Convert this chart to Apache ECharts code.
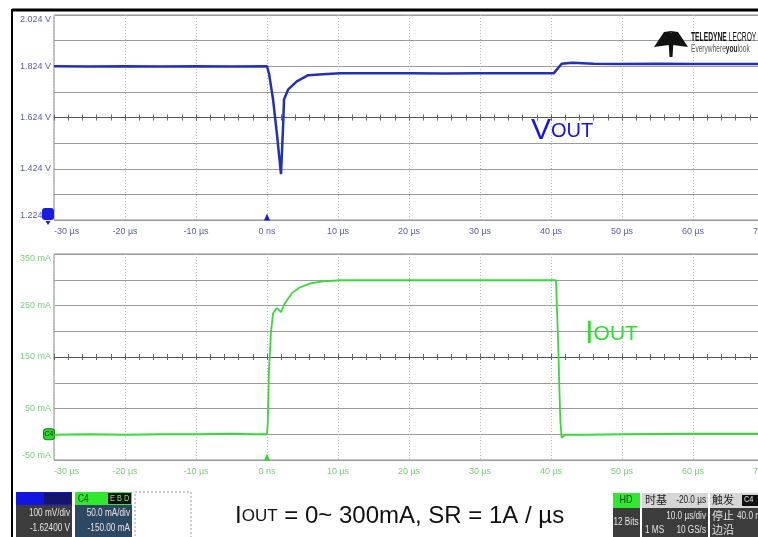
<!DOCTYPE html>
<html>
<head>
<meta charset="utf-8">
<script src="https://cdn.jsdelivr.net/npm/echarts@6/dist/echarts.min.js"></script>
<style>
  html, body { margin: 0; padding: 0; background: #fff; }
  #chart { width: 758px; height: 537px; }
</style>
</head>
<body>
<div id="chart"></div>
<script>
// VOUT trace (time in µs, volts)
const voutTime = [-30, -25, -20, -15, -10, -5, 0, 0.3, 0.85, 1.4, 1.97, 2.25, 2.4, 3.0, 4.2, 5.8, 7.9, 10.3, 15, 20, 25, 30, 35, 40.4, 41.5, 43, 46, 50, 55, 60, 65, 70];
const voutVolts = [1.824, 1.823, 1.824, 1.823, 1.824, 1.823, 1.824, 1.793, 1.695, 1.559, 1.403, 1.578, 1.695, 1.734, 1.765, 1.789, 1.793, 1.797, 1.797, 1.797, 1.796, 1.797, 1.797, 1.797, 1.834, 1.838, 1.834, 1.833, 1.834, 1.833, 1.833, 1.833];

// IOUT trace (time in µs, mA)
const ioutTime = [-30, -25, -20, -15, -10, -5, -2, 0, 0.1, 0.28, 0.56, 0.85, 1.4, 1.97, 2.5, 3.5, 4.6, 6.1, 7.9, 10.3, 20, 30, 40.7, 41.0, 41.3, 41.5, 42, 45, 50, 60, 70];
const ioutMilliamps = [-1, 0, -1, 0, 0, 1, 0, 0, 20, 124, 198, 235, 245, 237, 254, 274, 285, 293, 297, 299, 299, 299, 299, 180, 30, -7, -1, -1, 0, 1, 1];

// tick labels
const voltLabelTicks = [1.224, 1.424, 1.624, 1.824, 2.024];
const currentLabelTicks = [-50, 50, 150, 250, 350];

const narrow = "'Liberation Sans Narrow', 'Arial Narrow', 'Liberation Sans', sans-serif";
const sans = "'Liberation Sans', Arial, sans-serif";
const cjk = "'Noto Sans CJK SC', sans-serif";

const chart = echarts.init(document.getElementById("chart"));

const timeLabel = (v) => (v === 0 ? "0 ns" : v + " µs");

function mainX(gridIndex, color) {
  return {
    type: "value", gridIndex, min: -30, max: 70, interval: 10,
    axisLine: { show: false }, axisTick: { show: false },
    axisLabel: { color, fontSize: 9, fontFamily: narrow, margin: 7, formatter: timeLabel, alignMinLabel: "left" },
    splitLine: { show: true, lineStyle: { color: "#b8b8b8", type: [1, 2], width: 1 } },
  };
}
function centerX(gridIndex, offset, inside, showLine) {
  return {
    type: "value", gridIndex, min: -30, max: 70, interval: 2, position: "bottom", offset,
    axisLine: { show: showLine, lineStyle: { color: "#555", width: 1 } },
    axisTick: { show: true, inside, length: 3, lineStyle: { color: "#666" } },
    axisLabel: { show: false }, splitLine: { show: false },
  };
}

// small narrow text helper for the scope readout boxes
function readout(x, y, text, fill, align, size, family) {
  return {
    type: "text", x, y, z: 27, scaleX: family === cjk ? 1 : 0.82,
    style: { text, fill, font: (size || 10) + "px " + (family || sans), align: align || "left", verticalAlign: "middle" },
  };
}

const option = {
  animation: false,
  backgroundColor: "#fff",
  grid: [
    { left: 54, top: 15, width: 710, height: 205, show: true, borderColor: "#8c8c8c", borderWidth: 1, outerBoundsMode: "none", containLabel: false },
    { left: 54, top: 254, width: 710, height: 206, show: true, borderColor: "#8c8c8c", borderWidth: 1, outerBoundsMode: "none", containLabel: false },
  ],
  xAxis: [
    mainX(0, "#5a5ea6"),
    centerX(0, -102.5, false, true),
    centerX(0, -102.5, true, false),
    mainX(1, "#79cf79"),
    centerX(1, -103, false, true),
    centerX(1, -103, true, false),
  ],
  yAxis: [
    {
      type: "value", gridIndex: 0, min: 1.224, max: 2.024, interval: 0.1,
      axisLine: { show: false }, axisTick: { show: false },
      axisLabel: {
        color: "#5a5ea6", fontSize: 9, fontFamily: narrow, margin: 3,
        verticalAlignMinLabel: "bottom", verticalAlignMaxLabel: "top",
        formatter: (v) => (voltLabelTicks.some((t) => Math.abs(t - v) < 1e-6) ? v.toFixed(3) + " V" : ""),
      },
      splitLine: { lineStyle: { color: "#9a9a9a", width: 1 } },
    },
    {
      type: "value", gridIndex: 1, min: -50, max: 350, interval: 50,
      axisLine: { show: false }, axisTick: { show: false },
      axisLabel: {
        color: "#79cf79", fontSize: 9, fontFamily: narrow, margin: 3,
        verticalAlignMinLabel: "bottom", verticalAlignMaxLabel: "top",
        formatter: (v) => (currentLabelTicks.includes(v) ? v + " mA" : ""),
      },
      splitLine: { lineStyle: { color: "#9a9a9a", width: 1 } },
    },
  ],
  series: [
    {
      name: "VOUT", type: "line", xAxisIndex: 0, yAxisIndex: 0, showSymbol: false, silent: true,
      data: voutTime.map((t, i) => [t, voutVolts[i]]),
      lineStyle: { color: "#2230b8", width: 2.5 }, z: 5,
      markPoint: {
        silent: true,
        data: [
          { coord: [-30, 1.224], symbol: "roundRect", symbolSize: [12, 12], symbolOffset: [-6, -6], itemStyle: { color: "#1a1ae0" } },
          { coord: [-30, 1.224], symbol: "triangle", symbolSize: [5, 4], symbolOffset: [-6, 3], symbolRotate: 180, itemStyle: { color: "#1a1ae0" } },
          { coord: [0, 1.224], symbol: "triangle", symbolSize: [6, 7], symbolOffset: [0, -3], itemStyle: { color: "#1a1ae0" } },
        ],
        label: { show: false },
      },
    },
    {
      name: "IOUT", type: "line", xAxisIndex: 3, yAxisIndex: 1, showSymbol: false, silent: true,
      data: ioutTime.map((t, i) => [t, ioutMilliamps[i]]),
      lineStyle: { color: "#3ad93a", width: 1.8 }, z: 5,
      markPoint: {
        silent: true,
        data: [
          { coord: [-30, 0], symbol: "roundRect", symbolSize: [11, 11], symbolOffset: [-5, 0], itemStyle: { color: "#2ad82a", borderColor: "#127012", borderWidth: 1 },
            label: { show: true, formatter: "C4", fontSize: 7, color: "#063006", fontFamily: narrow } },
          { coord: [0, -50], symbol: "triangle", symbolSize: [6, 7], symbolOffset: [0, -3], itemStyle: { color: "#2ad82a" }, label: { show: false } },
        ],
      },
    },
  ],
  graphic: [
    // scope frame
    { type: "rect", shape: { x: 12, y: 10, width: 800, height: 600 }, style: { fill: "none", stroke: "#000", lineWidth: 2 }, z: 20, silent: true },
    { type: "line", shape: { x1: 12, y1: 10, x2: 758, y2: 10 }, style: { stroke: "#000", lineWidth: 3 }, z: 20, silent: true },
    // trace labels
    { type: "text", x: 531, y: 146, z: 30, style: { text: "{v|V}{o|OUT}", verticalAlign: "bottom", rich: { v: { fontSize: 30, fontFamily: sans, fill: "#1414f0" }, o: { fontSize: 20, fontFamily: sans, fill: "#1414f0" } } } },
    { type: "text", x: 585, y: 350, z: 30, style: { text: "{v|I}{o|OUT}", verticalAlign: "bottom", rich: { v: { fontSize: 31, fontFamily: sans, fill: "#2ee02e" }, o: { fontSize: 21, fontFamily: sans, fill: "#2ee02e" } } } },
    { type: "text", x: 235, y: 528, z: 30, style: { text: "{v|I}{o|OUT}{v| = 0~ 300mA, SR = 1A / µs}", verticalAlign: "bottom", rich: { v: { fontSize: 24, fontFamily: sans, fill: "#111" }, o: { fontSize: 17, fontFamily: sans, fill: "#111" } } } },
    // logo
    { type: "polygon", shape: { points: [[654, 47], [664, 32], [671, 31], [669, 45]] }, style: { fill: "#111" }, z: 25 },
    { type: "polygon", shape: { points: [[688, 47], [678, 32], [671, 31], [673, 45]] }, style: { fill: "#111" }, z: 25 },
    { type: "polygon", shape: { points: [[668, 33], [674, 33], [672.5, 57], [669.5, 57]] }, style: { fill: "#111" }, z: 25 },
    { type: "text", x: 691, y: 38, z: 25, scaleX: 0.56, style: { text: "{b|TELEDYNE}{r| LECROY}", verticalAlign: "middle", rich: { b: { fontSize: 12, fontWeight: "bold", fontFamily: sans, fill: "#111" }, r: { fontSize: 12, fontFamily: sans, fill: "#111" } } } },
    { type: "text", x: 691, y: 49, z: 25, scaleX: 0.6, style: { text: "{r|Everywhere}{b|you}{r|look}", verticalAlign: "middle", rich: { b: { fontSize: 11, fontWeight: "bold", fontFamily: sans, fill: "#222" }, r: { fontSize: 11, fontFamily: sans, fill: "#555" } } } },
    // channel boxes (bottom left)
    { type: "rect", shape: { x: 16, y: 492, width: 56, height: 13 }, style: { fill: "#1414e0" }, z: 25 },
    { type: "rect", shape: { x: 44, y: 493, width: 27, height: 11 }, style: { fill: "#14146a" }, z: 26 },
    { type: "rect", shape: { x: 16, y: 505, width: 56, height: 32 }, style: { fill: "#3c3c3c" }, z: 25 },
    readout(70, 513, "100 mV/div", "#e4e4e4", "right"),
    readout(70, 528, "-1.62400 V", "#e4e4e4", "right"),
    { type: "rect", shape: { x: 75, y: 492, width: 57, height: 13 }, style: { fill: "#30e830" }, z: 25 },
    readout(78, 499, "C4", "#0c3a0c"),
    { type: "rect", shape: { x: 108, y: 493, width: 23, height: 11 }, style: { fill: "#101010" }, z: 26 },
    readout(110, 499, "E B D", "#7de87d", "left", 9),
    { type: "rect", shape: { x: 75, y: 505, width: 57, height: 32 }, style: { fill: "#2e4864" }, z: 25 },
    readout(130, 513, "50.0 mA/div", "#e4e4e4", "right"),
    readout(130, 528, "-150.00 mA", "#e4e4e4", "right"),
    { type: "rect", shape: { x: 135, y: 492, width: 56, height: 50 }, style: { fill: "none", stroke: "#9a9a9a", lineDash: [2, 2], lineWidth: 1 }, z: 25 },
    // acquisition boxes (bottom right)
    { type: "rect", shape: { x: 613, y: 493, width: 27, height: 15 }, style: { fill: "#30e830" }, z: 25 },
    readout(626, 500, "HD", "#0c3a0c", "center", 11),
    { type: "rect", shape: { x: 613, y: 508, width: 27, height: 30 }, style: { fill: "#3c3c3c" }, z: 25 },
    readout(626, 522, "12 Bits", "#e4e4e4", "center"),
    { type: "rect", shape: { x: 642, y: 493, width: 66, height: 15 }, style: { fill: "#d6d6d6" }, z: 25 },
    readout(645, 500, "时基", "#222", "left", 11, cjk),
    readout(706, 500, "-20.0 µs", "#222", "right"),
    { type: "rect", shape: { x: 642, y: 508, width: 66, height: 30 }, style: { fill: "#3c3c3c" }, z: 25 },
    readout(706, 516, "10.0 µs/div", "#e4e4e4", "right"),
    readout(645, 530, "1 MS", "#e4e4e4"),
    readout(706, 530, "10 GS/s", "#e4e4e4", "right"),
    { type: "rect", shape: { x: 710, y: 493, width: 48, height: 15 }, style: { fill: "#d6d6d6" }, z: 25 },
    readout(712, 500, "触发", "#222", "left", 11, cjk),
    { type: "rect", shape: { x: 742, y: 495, width: 16, height: 11 }, style: { fill: "#111" }, z: 26 },
    readout(744, 500, "C4", "#e4e4e4", "left", 9),
    { type: "rect", shape: { x: 710, y: 508, width: 48, height: 30 }, style: { fill: "#3c3c3c" }, z: 25 },
    readout(712, 516, "停止", "#e4e4e4", "left", 11, cjk),
    readout(737, 516, "40.0 mA", "#e4e4e4"),
    readout(712, 530, "边沿", "#e4e4e4", "left", 11, cjk),
  ],
};

chart.setOption(option);
</script>
</body>
</html>
